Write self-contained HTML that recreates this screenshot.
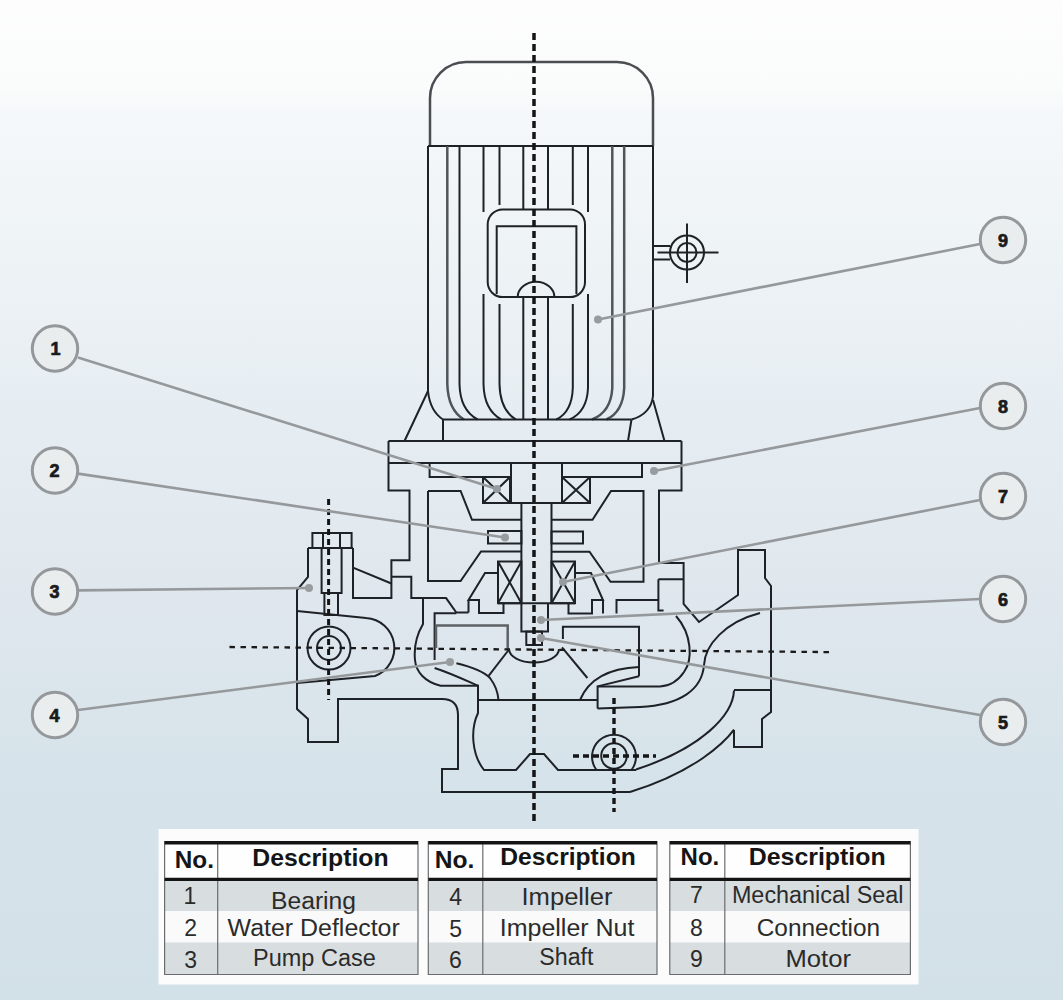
<!DOCTYPE html>
<html>
<head>
<meta charset="utf-8">
<style>
html,body{margin:0;padding:0;}
body{width:1063px;height:1000px;overflow:hidden;position:relative;
background:linear-gradient(to bottom,#fdfdfd 0%,#fafbfb 9%,#f5f8fa 11.3%,#eef3f6 25%,#e6edf2 41.5%,#e0e8ee 58%,#d7e3ea 76%,#d2e0e8 100%);
font-family:"Liberation Sans",sans-serif;}
svg{position:absolute;left:0;top:0;}
</style>
</head>
<body>
<svg width="1063" height="1000" viewBox="0 0 1063 1000" style="font-family:'Liberation Sans',sans-serif">
<rect x="158.5" y="829" width="760" height="155.5" fill="#fcfcfc"/>
<rect x="164.6" y="843" width="253.4" height="37" fill="#fefefe"/>
<rect x="164.6" y="880.5" width="253.4" height="30.5" fill="#d8dde0"/>
<rect x="164.6" y="911" width="253.4" height="31.5" fill="#fafafa"/>
<rect x="164.6" y="942.5" width="253.4" height="32" fill="#d8dde0"/>
<path d="M164.6,841 V975 M418,841 V975 M217.7,843 V975 M164.6,974.5 H418" stroke="#6a6d70" stroke-width="1.2" fill="none"/>
<path d="M164.6,842.8 H418 M164.6,879.4 H418" stroke="#141414" stroke-width="3.4" fill="none"/>
<text x="194.4" y="867.7" font-weight="bold" font-size="24" fill="#151515" text-anchor="middle" textLength="39.2" lengthAdjust="spacingAndGlyphs">No.</text>
<text x="320.4" y="866" font-weight="bold" font-size="24" fill="#151515" text-anchor="middle" textLength="136.3" lengthAdjust="spacingAndGlyphs">Description</text>
<text x="190.0" y="904.4" font-size="23" fill="#2b2b2b" text-anchor="middle">1</text>
<text x="313.5" y="909" font-size="23" fill="#2b2b2b" text-anchor="middle" textLength="85.0" lengthAdjust="spacingAndGlyphs">Bearing</text>
<text x="190.6" y="936" font-size="23" fill="#2b2b2b" text-anchor="middle">2</text>
<text x="313.7" y="936" font-size="23" fill="#2b2b2b" text-anchor="middle" textLength="172.2" lengthAdjust="spacingAndGlyphs">Water Deflector</text>
<text x="190.6" y="967.6" font-size="23" fill="#2b2b2b" text-anchor="middle">3</text>
<text x="314.4" y="966.3" font-size="23" fill="#2b2b2b" text-anchor="middle" textLength="122.8" lengthAdjust="spacingAndGlyphs">Pump Case</text>
<rect x="428.3" y="843" width="228.7" height="37" fill="#fefefe"/>
<rect x="428.3" y="880.5" width="228.7" height="30.5" fill="#d8dde0"/>
<rect x="428.3" y="911" width="228.7" height="31.5" fill="#fafafa"/>
<rect x="428.3" y="942.5" width="228.7" height="32" fill="#d8dde0"/>
<path d="M428.3,841 V975 M657,841 V975 M482.8,843 V975 M428.3,974.5 H657" stroke="#6a6d70" stroke-width="1.2" fill="none"/>
<path d="M428.3,842.8 H657 M428.3,879.4 H657" stroke="#141414" stroke-width="3.4" fill="none"/>
<text x="454.6" y="868" font-weight="bold" font-size="24" fill="#151515" text-anchor="middle" textLength="39.6" lengthAdjust="spacingAndGlyphs">No.</text>
<text x="568.0" y="865.2" font-weight="bold" font-size="24" fill="#151515" text-anchor="middle" textLength="135.5" lengthAdjust="spacingAndGlyphs">Description</text>
<text x="455.6" y="904.7" font-size="23" fill="#2b2b2b" text-anchor="middle">4</text>
<text x="567.0" y="904.7" font-size="23" fill="#2b2b2b" text-anchor="middle" textLength="91.1" lengthAdjust="spacingAndGlyphs">Impeller</text>
<text x="455.6" y="936.6" font-size="23" fill="#2b2b2b" text-anchor="middle">5</text>
<text x="567.1" y="935.7" font-size="23" fill="#2b2b2b" text-anchor="middle" textLength="134.6" lengthAdjust="spacingAndGlyphs">Impeller Nut</text>
<text x="455.5" y="968.2" font-size="23" fill="#2b2b2b" text-anchor="middle">6</text>
<text x="566.4" y="965.4" font-size="23" fill="#2b2b2b" text-anchor="middle" textLength="54.2" lengthAdjust="spacingAndGlyphs">Shaft</text>
<rect x="669.8" y="843" width="240.60000000000002" height="37" fill="#fefefe"/>
<rect x="669.8" y="880.5" width="240.60000000000002" height="30.5" fill="#d8dde0"/>
<rect x="669.8" y="911" width="240.60000000000002" height="31.5" fill="#fafafa"/>
<rect x="669.8" y="942.5" width="240.60000000000002" height="32" fill="#d8dde0"/>
<path d="M669.8,841 V975 M910.4,841 V975 M724.8,843 V975 M669.8,974.5 H910.4" stroke="#6a6d70" stroke-width="1.2" fill="none"/>
<path d="M669.8,842.8 H910.4 M669.8,879.4 H910.4" stroke="#141414" stroke-width="3.4" fill="none"/>
<text x="699.9" y="865.2" font-weight="bold" font-size="24" fill="#151515" text-anchor="middle" textLength="38.7" lengthAdjust="spacingAndGlyphs">No.</text>
<text x="817.2" y="865.2" font-weight="bold" font-size="24" fill="#151515" text-anchor="middle" textLength="136.9" lengthAdjust="spacingAndGlyphs">Description</text>
<text x="696.5" y="903.3" font-size="23" fill="#2b2b2b" text-anchor="middle">7</text>
<text x="817.7" y="903.3" font-size="23" fill="#2b2b2b" text-anchor="middle" textLength="171.6" lengthAdjust="spacingAndGlyphs">Mechanical Seal</text>
<text x="696.5" y="935.7" font-size="23" fill="#2b2b2b" text-anchor="middle">8</text>
<text x="818.4" y="935.7" font-size="23" fill="#2b2b2b" text-anchor="middle" textLength="123.3" lengthAdjust="spacingAndGlyphs">Connection</text>
<text x="696.5" y="966.8" font-size="23" fill="#2b2b2b" text-anchor="middle">9</text>
<text x="818.2" y="966.8" font-size="23" fill="#2b2b2b" text-anchor="middle" textLength="65.5" lengthAdjust="spacingAndGlyphs">Motor</text>
</svg>
<svg width="1063" height="1000" viewBox="0 0 1063 1000">
<g id="drawing" fill="none" stroke="#1e2226" stroke-width="2" stroke-linejoin="miter" stroke-linecap="butt">
<!-- motor -->
<path stroke="#4a4e52" stroke-width="2.5" d="M430,146 V98 A36,36 0 0 1 466,62 H617 A36,36 0 0 1 653,98 V146"/>
<path d="M428,146 H653"/>
<path d="M428,146 V391 Q430,411 443,419.5"/>
<path d="M653,146 V396 Q651,414 631.5,419.5"/>
<path stroke="#50555a" stroke-width="2.5" d="M447.3,146 V384 Q448,410 464,419.5"/>
<path d="M459.5,146 V384 Q460,410 477.6,419.5"/>
<path d="M483.5,146 V212 M483.5,294 V384 Q484,410 501.3,419.5"/>
<path d="M499.5,146 V205 M499.5,304 V384 Q500,410 516,419.5"/>
<path d="M523.3,146 V209.4 M523.3,297 V419.5"/>
<path d="M548,146 V209.4 M548,297 V419.5"/>
<path d="M572.8,146 V205 M572.8,304 V388 Q572,412 556.3,419.5"/>
<path d="M588,146 V212 M588,294 V388 Q587,412 569.5,419.5"/>
<path stroke="#50555a" stroke-width="2.5" d="M612.3,146 V388 Q611,412 592,419.5"/>
<path stroke="#50555a" stroke-width="2.5" d="M624.2,146 V388 Q623,412 606.4,419.5"/>
<rect x="487.7" y="209.4" width="97.3" height="87.7" rx="15" ry="15"/>
<path d="M496.7,294 V226.2 H576.4 V294"/>
<path d="M517.7,297.1 A18.3,15.3 0 0 1 554.4,297.1"/>
<!-- side terminal -->
<path d="M653,246 H670 M653,259.5 H670 M687,223.5 V283 M657.5,252.5 H718.5"/>
<circle cx="687" cy="252.5" r="17"/>
<circle cx="687" cy="252.5" r="9.5"/>
<!-- base / flange -->
<path d="M443,419.5 H631.5 M443,419.5 V441 M631.5,419.5 L628,441 M428,391 L404.5,441 M653,400 L664.5,441"/>
<path d="M388.5,441 H681.5 M388.5,463 H681.5"/>
<path d="M388.5,441 V490.5 H409.5 V560.3 H391.4 V598.1 H353 V548"/>
<path d="M681.5,441 V490.5 H659 V563 H683.6 V604 L699,622 L738,595 V550 H765 V578 L771,586 V712 L762,719 V747 H734 V730 M734,690 H771"/>
<!-- bearing housing -->
<path d="M429.6,463 V477 H511 M642,463 V477 H562"/>
<path d="M511,463 V503 M562,463 V503 M483,503 H590"/>
<rect x="483" y="477" width="27" height="26"/>
<path d="M483,477 L510,503 M510,477 L483,503"/>
<rect x="562" y="477" width="28" height="26"/>
<path d="M562,477 L590,503 M590,477 L562,503"/>
<!-- shaft -->
<path d="M521.4,503 V631.6 H548 V603.3 M551.5,503 V603.3 M498,603.3 H575"/>
<rect x="526.3" y="631.6" width="15.7" height="13.4"/>
<!-- cavities -->
<path d="M428,491 H460.6 L472,519.75 H521.4 M521.4,551.5 H481 L460.6,581 H428 V491"/>
<path d="M551.5,519.7 H592.5 L611,491 H643.5 V581.8 H610.5 L589.5,551.7 H551.5"/>
<!-- water deflector -->
<rect x="488" y="531" width="33.4" height="12.5"/>
<rect x="551.5" y="531.5" width="31.5" height="12"/>
<!-- seal -->
<rect x="498" y="561.5" width="23.4" height="41.7"/>
<path d="M498,561.5 L521.4,603.2 M521.4,561.5 L498,603.2"/>
<rect x="551.5" y="561.5" width="23.5" height="41.7"/>
<path d="M551.5,561.5 L575,603.2 M575,561.5 L551.5,603.2"/>
<path d="M498,573 H485 L468.5,600 H479 V613 H503.5 V603.2 M468.5,600 V612.5"/>
<path d="M575,573 H591 L603,600 H592 V613.5 H568.5 V603.2 M603,600 V613.5 M616.5,613.5 V600 H658.4 M658.4,579.2 H683.6 M658.4,579.2 V610.4 H663.6"/>
<!-- boss + bolt -->
<path d="M391.4,576.7 H411.3 V598.1 H446.1 L456.3,612.5 H468.5"/>
<path d="M353,567.7 L391.4,583.5"/>
<path d="M308,548 H353 M308,548 V577 L297,590 V709 L308,719 V742 H338 V699 H442 Q458,699 458,715 V769 H442 V792 H630"/>
<rect x="312.4" y="533" width="39.2" height="15"/>
<path d="M323,533 V548 M340,533 V548"/>
<rect x="321.6" y="548" width="20" height="45"/>
<rect x="324.4" y="593" width="13.6" height="22"/>
<path d="M297,611 L366,618 A30,30 0 0 1 375,676 L297,683"/>
<circle cx="329" cy="648" r="21.5"/>
<circle cx="329" cy="648" r="12"/>
<!-- impeller -->
<path d="M434.6,660 V613.3 H456.3"/>
<path stroke="#5d6266" stroke-width="2.5" d="M436,648 V625.5 H507.7 V649.5"/>
<path d="M562.9,639 V626.8 H639 V676.2"/>
<path d="M423,598.1 V624 C416,636 414,650 415,660 C416,672 425,682 440.6,685.7 H478 V713 C470,730 472,755 484,770 H516 L530,754 H544 L558,770 H636"/>
<path d="M676,616 C692,634 693,660 684,672 C678,681 670,686 660,686.4 H597.6 V708.4"/>
<path d="M760,613 C725,622 705,645 704,665 C702,690 680,705 640,707 L597.6,708.4"/>
<path d="M639,667 C615,668 590,676 580,700"/>
<path d="M639,676.2 L597.6,686.4"/>
<path d="M562,647.4 L587.4,678"/>
<path d="M434.6,668 C450,673 465,680 478,685.7"/>
<path d="M456.4,663.3 C472,667 484,672 490,678 C496,686 498,693 498.5,700"/>
<path d="M509,649.5 L488.6,675.8"/>
<path d="M509,649 A25,13.5 0 0 0 559,649"/>
<path d="M478,700 H597.6"/>
<path d="M734,690.5 C733,715 702,748 636,769.5"/>
<path d="M734,729.7 C725,742 695,772 630,792"/>
<path d="M596.5,770 A22,22 0 1 1 631.5,770"/>
<circle cx="614" cy="756" r="12.8"/>
<!-- dashed lines -->
<path stroke="#151515" stroke-width="3.5" stroke-dasharray="7 4" d="M534,33 V821"/>
<path stroke="#1a1a1a" stroke-width="2.3" stroke-dasharray="5.5 5.5" d="M229.5,647 L830,652.1"/>
<path stroke="#151515" stroke-width="3" stroke-dasharray="6 4" d="M328.6,499 V700"/>
<path stroke="#151515" stroke-width="3.4" stroke-dasharray="6 4" d="M614,698 V812"/>
<path stroke="#151515" stroke-width="3.4" stroke-dasharray="6 4" d="M573,756 H656"/>
</g>
<g id="leaders" fill="none" stroke="#96999c" stroke-width="2.6">
  <line x1="78" y1="357.5" x2="497" y2="489"/>
  <line x1="78" y1="473.6" x2="505" y2="537.5"/>
  <line x1="78" y1="590.4" x2="309" y2="588"/>
  <line x1="78" y1="710" x2="450" y2="662"/>
  <line x1="980" y1="715" x2="541" y2="638"/>
  <line x1="980" y1="599" x2="541" y2="620"/>
  <line x1="980" y1="500" x2="563" y2="582"/>
  <line x1="980" y1="408" x2="654" y2="471"/>
  <line x1="980" y1="244" x2="598" y2="319.5"/>
</g>
<g id="dots" fill="#999c9f" stroke="none">
  <circle cx="497" cy="489" r="4"/>
  <circle cx="505" cy="537.5" r="4"/>
  <circle cx="309" cy="588" r="4"/>
  <circle cx="450" cy="662" r="4"/>
  <circle cx="541" cy="638" r="4"/>
  <circle cx="541" cy="620" r="4"/>
  <circle cx="563" cy="582" r="4"/>
  <circle cx="654" cy="471" r="4"/>
  <circle cx="598" cy="319.5" r="4"/>
</g>
<g id="labels" fill="#e9edee" stroke="#95989b" stroke-width="3">
  <circle cx="55" cy="348.5" r="22.7"/>
  <circle cx="55" cy="470.5" r="22.7"/>
  <circle cx="55" cy="591.5" r="22.7"/>
  <circle cx="55" cy="715" r="22.7"/>
  <circle cx="1003" cy="722" r="22.7"/>
  <circle cx="1003" cy="599" r="22.7"/>
  <circle cx="1003" cy="496" r="22.7"/>
  <circle cx="1003" cy="406" r="22.7"/>
  <circle cx="1003" cy="240" r="22.7"/>
</g>
<g id="labeltext" fill="#1a1a1a" stroke="#1a1a1a" stroke-width="0.7" font-family="Liberation Sans" font-weight="bold" font-size="18" text-anchor="middle">
  <text x="55.5" y="355">1</text>
  <text x="54.5" y="477">2</text>
  <text x="54.5" y="598">3</text>
  <text x="54.5" y="722">4</text>
  <text x="1003" y="728.5">5</text>
  <text x="1003" y="605.5">6</text>
  <text x="1003" y="502.5">7</text>
  <text x="1003" y="412.5">8</text>
  <text x="1003" y="246.5">9</text>
</g>
</svg>
</body>
</html>
